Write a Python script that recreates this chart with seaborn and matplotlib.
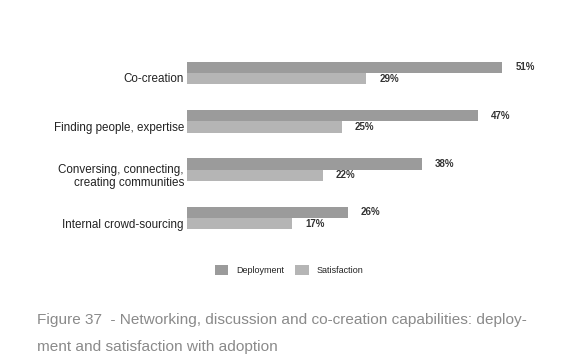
import matplotlib
matplotlib.use("Agg")
import matplotlib.pyplot as plt
import matplotlib.transforms as mtransforms
from matplotlib.patches import Patch
import seaborn as sns
import pandas as pd

categories = ["Co-creation", "Finding people, expertise",
              "Conversing, connecting,\ncreating communities", "Internal crowd-sourcing"]
deployment = [51, 47, 38, 26]
satisfaction = [29, 25, 22, 17]
series_names = ["Deployment", "Satisfaction"]
colors = ["#9b9b9b", "#b5b5b5"]
caption = ("Figure 37  - Networking, discussion and co-creation capabilities: deploy-\n"
           "ment and satisfaction with adoption")

sns.set_theme(style="white")
plt.rcParams["font.family"] = ["Liberation Sans", "DejaVu Sans"]

df = pd.DataFrame({
    "category": categories * 2,
    "value": deployment + satisfaction,
    "series": [series_names[0]] * len(categories) + [series_names[1]] * len(categories),
})

fig = plt.figure(figsize=(5.8, 3.62), dpi=100)
W, H = 580, 362
left, right = 187 / W, 558 / W
top, bottom = 1 - 48.75 / H, 1 - 242.25 / H
ax = fig.add_axes([left, bottom, right - left, top - bottom])

sns.barplot(data=df, y="category", x="value", hue="series", orient="h",
            palette=colors, width=0.47, ax=ax, legend=False,
            linewidth=0, saturation=1)

ax.set_xlim(0, 60)
ax.set_ylim(3.5, -0.5)
ax.set_xlabel("")
ax.set_ylabel("")
ax.set_xticks([])
for s in ax.spines.values():
    s.set_visible(False)

ax.tick_params(axis="y", length=0, pad=2.2, labelsize=8.4, labelcolor="#222222")
offset = mtransforms.ScaledTranslation(0, -5 / 100, fig.dpi_scale_trans)
for lab in ax.get_yticklabels():
    lab.set_transform(lab.get_transform() + offset)
    lab.set_linespacing(1.05)

for cont in ax.containers:
    ax.bar_label(cont, fmt="%d%%", padding=9.4, fontsize=7.0,
                 fontweight="bold", color="#333333")

handles = [Patch(facecolor=c, edgecolor="none") for c in colors]
fig.legend(handles, series_names, loc="center", bbox_to_anchor=(289 / W, 1 - 270 / H),
           ncol=2, frameon=False, fontsize=6.5, handlelength=1.45, handleheight=1.45,
           handletextpad=0.9, columnspacing=1.3, borderpad=0, labelcolor="#222222")

fig.text(37 / W, 1 - 313 / H, caption, ha="left", va="top", fontsize=11.1,
         color="#8a8a8a", linespacing=2.2, transform=fig.transFigure)

fig.savefig("out.png", dpi=100)
